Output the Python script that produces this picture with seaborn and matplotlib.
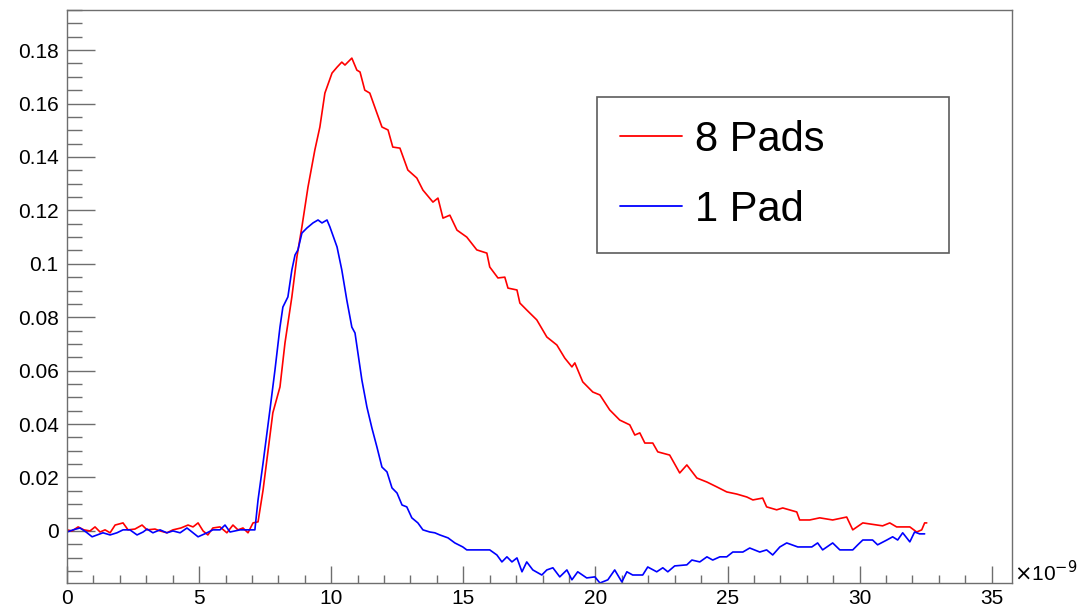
import numpy as np
import pandas as pd
import seaborn as sns
import matplotlib.pyplot as plt
from matplotlib.ticker import MultipleLocator, FormatStrFormatter

# time in ns (axis shown x10^-9), amplitude
t_8pads = [0, 0.19, 0.42, 0.64, 0.87, 1.06, 1.25, 1.44, 1.63, 1.82, 2.12, 2.31, 2.57, 2.84, 3.03,
           3.33, 3.52, 3.78, 4.01, 4.31, 4.58, 4.77, 4.96, 5.15, 5.33, 5.52, 5.79, 6.05, 6.28, 6.47,
           6.66, 6.85, 7.04, 7.23, 7.42, 7.79, 8.06, 8.25, 8.51, 8.70, 8.89, 9.12, 9.38, 9.57, 9.76,
           10.03, 10.22, 10.40, 10.52, 10.78, 10.97, 11.09, 11.27, 11.46, 11.73, 11.92, 12.15, 12.33,
           12.60, 12.90, 13.24, 13.47, 13.85, 14.04, 14.23, 14.49, 14.76, 15.13, 15.51, 15.89, 16.00,
           16.31, 16.57, 16.69, 17.03, 17.14, 17.40, 17.78, 18.16, 18.54, 18.84, 19.11, 19.22, 19.52,
           19.90, 20.17, 20.54, 20.92, 21.30, 21.49, 21.68, 21.87, 22.17, 22.36, 22.81, 23.19, 23.46,
           23.84, 24.22, 24.59, 24.97, 25.35, 25.73, 25.96, 26.33, 26.48, 26.86, 27.09, 27.62, 27.73,
           28.11, 28.49, 28.98, 29.51, 29.74, 30.12, 30.87, 31.14, 31.40, 31.90, 32.16, 32.35, 32.46,
           32.54]
amp_8pads = [0.0004, 0, 0.0015, 0.0004, 0, 0.0015, -0.0004, 0.0004, -0.0007, 0.0022, 0.0030, 0.0004,
             0.0007, 0.0022, 0.0004, 0.0007, 0, -0.0007, 0.0004, 0.0011, 0.0022, 0.0015, 0.0030, 0,
             -0.0015, 0.0011, 0.0015, -0.0007, 0.0022, 0.0004, 0.0011, -0.0007, 0.0030, 0.0034,
             0.0153, 0.0442, 0.0539, 0.0704, 0.0876, 0.1025, 0.1138, 0.1287, 0.1426, 0.1512, 0.1639,
             0.1714, 0.1736, 0.1755, 0.1744, 0.1770, 0.1725, 0.1718, 0.1650, 0.1639, 0.1564, 0.1512,
             0.1501, 0.1437, 0.1433, 0.1351, 0.1321, 0.1276, 0.1231, 0.1246, 0.1171, 0.1182, 0.1126,
             0.1100, 0.1052, 0.1040, 0.0988, 0.0947, 0.0950, 0.0909, 0.0902, 0.0853, 0.0827, 0.0790,
             0.0726, 0.0696, 0.0647, 0.0614, 0.0629, 0.0558, 0.0520, 0.0509, 0.0453, 0.0415, 0.0397,
             0.0359, 0.0367, 0.0329, 0.0329, 0.0296, 0.0284, 0.0217, 0.0247, 0.0198, 0.0183, 0.0165,
             0.0146, 0.0138, 0.0127, 0.0116, 0.0123, 0.0090, 0.0079, 0.0086, 0.0071, 0.0041, 0.0041,
             0.0049, 0.0041, 0.0052, 0.0004, 0.0030, 0.0019, 0.0030, 0.0015, 0.0015, -0.0004, 0.0004,
             0.0030, 0.0030]

t_1pad = [0, 0.23, 0.49, 0.72, 0.95, 1.14, 1.36, 1.63, 1.89, 2.12, 2.38, 2.65, 2.88, 3.03, 3.25,
          3.52, 3.78, 4.01, 4.28, 4.54, 4.77, 4.96, 5.30, 5.52, 5.79, 5.98, 6.17, 6.55, 6.85, 7.11,
          7.23, 7.42, 7.68, 7.87, 8.06, 8.17, 8.36, 8.51, 8.63, 8.74, 8.89, 9.08, 9.31, 9.50, 9.65,
          9.84, 9.95, 10.22, 10.40, 10.59, 10.78, 10.90, 11.01, 11.16, 11.35, 11.54, 11.73, 11.92,
          12.11, 12.30, 12.49, 12.68, 12.86, 13.05, 13.28, 13.47, 13.73, 13.92, 14.11, 14.42, 14.68,
          14.98, 15.13, 16.00, 16.27, 16.46, 16.65, 16.84, 17.03, 17.22, 17.40, 17.63, 17.97, 18.16,
          18.39, 18.65, 18.92, 19.11, 19.33, 19.67, 19.98, 20.17, 20.47, 20.73, 21.00, 21.19, 21.41,
          21.79, 21.98, 22.32, 22.55, 22.74, 23.00, 23.46, 23.65, 23.95, 24.22, 24.44, 24.71, 24.97,
          25.20, 25.58, 25.84, 26.22, 26.48, 26.71, 26.98, 27.24, 27.66, 28.19, 28.41, 28.60, 28.98,
          29.25, 29.74, 29.93, 30.12, 30.49, 30.68, 31.03, 31.25, 31.44, 31.63, 31.90, 32.08, 32.27,
          32.46]
amp_1pad = [-0.0004, 0.0004, 0.0011, -0.0004, -0.0022, -0.0015, -0.0007, -0.0015, -0.0007, 0.0004,
            0.0004, -0.0015, -0.0004, 0.0007, -0.0007, 0.0004, -0.0007, 0, -0.0007, 0.0011, -0.0007,
            -0.0022, -0.0007, 0.0004, 0.0004, 0.0022, -0.0004, 0.0004, 0.0004, 0.0004, 0.0116,
            0.0254, 0.0453, 0.0602, 0.0763, 0.0838, 0.0876, 0.0977, 0.1033, 0.1052, 0.1115, 0.1134,
            0.1153, 0.1164, 0.1153, 0.1164, 0.1138, 0.1063, 0.0977, 0.0864, 0.0763, 0.0741, 0.0666,
            0.0565, 0.0464, 0.0385, 0.0314, 0.0239, 0.0221, 0.0161, 0.0142, 0.0097, 0.0090, 0.0049,
            0.0030, 0.0004, -0.0004, -0.0007, -0.0015, -0.0026, -0.0045, -0.0060, -0.0071, -0.0071,
            -0.0090, -0.0116, -0.0097, -0.0116, -0.0101, -0.0153, -0.0116, -0.0146, -0.0165, -0.0146,
            -0.0138, -0.0172, -0.0146, -0.0183, -0.0153, -0.0176, -0.0172, -0.0195, -0.0183, -0.0146,
            -0.0191, -0.0153, -0.0165, -0.0165, -0.0135, -0.0153, -0.0138, -0.0153, -0.0131, -0.0127,
            -0.0109, -0.0116, -0.0097, -0.0109, -0.0097, -0.0097, -0.0079, -0.0079, -0.0064, -0.0079,
            -0.0071, -0.0090, -0.0060, -0.0045, -0.0060, -0.0060, -0.0045, -0.0071, -0.0045, -0.0071,
            -0.0071, -0.0052, -0.0034, -0.0034, -0.0052, -0.0034, -0.0022, -0.0034, -0.0007, -0.0041,
            -0.0004, -0.0011, -0.0011]

series_names = ["8 Pads", "1 Pad"]
series_colors = {"8 Pads": "#ff0000", "1 Pad": "#0000ff"}

df = pd.concat([
    pd.DataFrame({"t": t_8pads, "amp": amp_8pads, "series": series_names[0]}),
    pd.DataFrame({"t": t_1pad, "amp": amp_1pad, "series": series_names[1]}),
])

sns.set_style("white")
plt.rcParams["font.family"] = ["Liberation Sans", "DejaVu Sans"]
plt.rcParams["text.color"] = "black"
plt.rcParams["xtick.color"] = "black"
plt.rcParams["ytick.color"] = "black"

fig = plt.figure(figsize=(10.81, 6.11), dpi=100)
ax = fig.add_axes([0.062, 0.0458, 0.874, 0.9378])

sns.lineplot(data=df, x="t", y="amp", hue="series", hue_order=series_names,
             palette=series_colors, estimator=None, sort=False, linewidth=1.2, ax=ax)

ax.set_xlim(0, 35.76)
ax.set_ylim(-0.0195, 0.195)
ax.set_xlabel("")
ax.set_ylabel("")

ax.xaxis.set_major_locator(MultipleLocator(5))
ax.xaxis.set_minor_locator(MultipleLocator(1))
ax.yaxis.set_major_locator(MultipleLocator(0.02))
ax.yaxis.set_minor_locator(MultipleLocator(0.005))
ax.yaxis.set_major_formatter(FormatStrFormatter("%g"))

frame_col = "#6e6e6e"
for sp in ax.spines.values():
    sp.set_color(frame_col)
    sp.set_linewidth(1.0)

ax.tick_params(axis="x", which="major", direction="in", length=12, width=1, color=frame_col,
               labelsize=15, labelcolor="black", pad=4, bottom=True, top=False)
ax.tick_params(axis="x", which="minor", direction="in", length=6, width=1, color=frame_col,
               bottom=True, top=False)
ax.tick_params(axis="y", which="major", direction="in", length=20, width=1, color=frame_col,
               labelsize=15, labelcolor="black", pad=6, left=True, right=False)
ax.tick_params(axis="y", which="minor", direction="in", length=10.5, width=1, color=frame_col,
               left=True, right=False)

fig.text(0.938, 0.043, r"$\times$10$^{-9}$", fontsize=15, ha="left", va="bottom")

leg = ax.legend(loc="upper left", bbox_to_anchor=(0.561, 0.848, 0.373, 0.0), mode="expand",
                borderaxespad=0, fontsize=30, frameon=True, fancybox=False, shadow=False,
                handlelength=1.5, handletextpad=0.31, borderpad=0.55, labelspacing=0.72)
leg.get_frame().set_edgecolor("#333333")
leg.get_frame().set_linewidth(1.2)
for txt in leg.get_texts():
    txt.set_color("black")
for line in leg.get_lines():
    line.set_linewidth(1.3)

fig.savefig("out.png", dpi=100)
